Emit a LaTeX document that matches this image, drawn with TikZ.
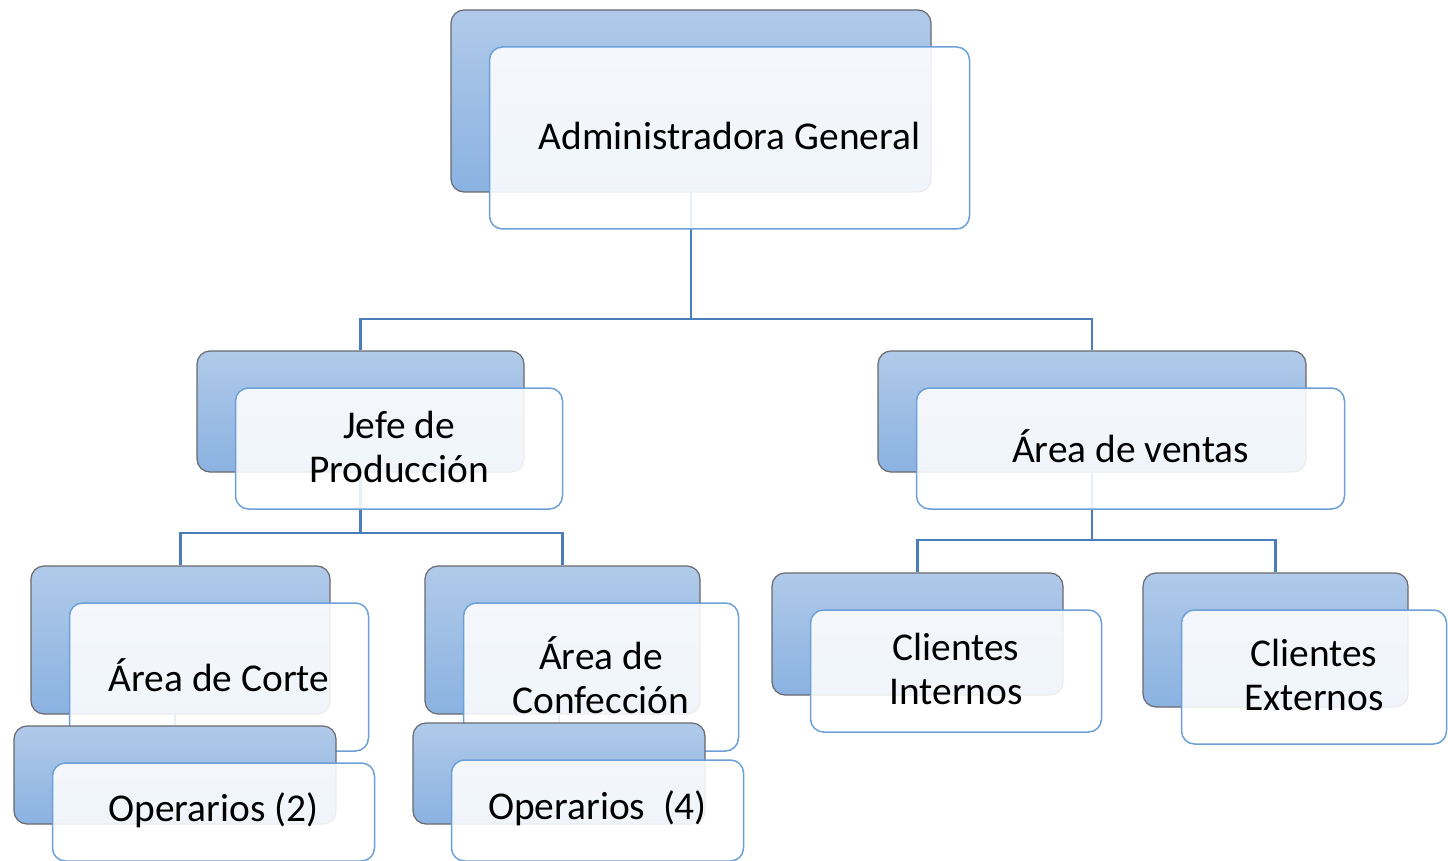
\documentclass[tikz,border=0pt]{standalone}
\usepackage{fontspec}
\setmainfont{Carlito}
\usetikzlibrary{backgrounds}
\definecolor{backline}{RGB}{105,105,110}
\definecolor{backtop}{RGB}{176,202,233}
\definecolor{backbot}{RGB}{138,178,225}
\definecolor{frontline}{RGB}{108,160,216}
\definecolor{linkcol}{RGB}{74,126,187}
\newcommand\orgfont{\fontsize{39.4}{44}\selectfont}
\tikzset{
  backbox/.style={draw=backline, line width=1.2pt, rounded corners=13pt,
    top color=backtop, middle color=backtop!85!backbot, bottom color=backbot,
    inner sep=0pt},
  frontbox/.style={draw=frontline, line width=1.5pt, rounded corners=13pt,
    fill=white, fill opacity=0.88, draw opacity=1, inner sep=0pt},
  label/.style={text=black, inner sep=0pt, align=center, font=\orgfont},
  link/.style={draw=linkcol, line width=2.9pt}
}
\newcommand\orgpair[6]{%
  \node[backbox, minimum width={#4-#2}, minimum height={#5-#3}] (#1B)
    at ({(#2+#4)/2},{(#3+#5)/2}) {};
  \node[frontbox, minimum width={#4-#2}, minimum height={#5-#3}] (#1F)
    at ({(#2+#4)/2+38.5},{(#3+#5)/2+37}) {};
  \node[label] (#1T) at ([yshift=2pt]#1F.center) {#6};
}
\begin{document}
\begin{tikzpicture}[x=1pt,y=-1pt]
\useasboundingbox (0,0) rectangle (1448,861);

\orgpair{admin}{451}{10}{931}{192}{Administradora General}
\orgpair{jefe}{197}{351}{524}{472}{Jefe de\\Producción}
\orgpair{ventas}{878}{351}{1306}{472}{Área de ventas}
\orgpair{corte}{31}{566}{330}{714}{Área de Corte}
\orgpair{opdos}{14}{726}{336}{824}{Operarios (2)}
\orgpair{conf}{425}{566}{700}{714}{Área de\\Confección}
\orgpair{opcua}{413}{723}{705}{824}{Operarios\ \ (4)}
\orgpair{cint}{772}{573}{1063}{695}{Clientes\\Internos}
\orgpair{cext}{1143}{573}{1408}{707}{Clientes\\Externos}

\coordinate (barA) at (0,319);
\coordinate (barJ) at (0,533);
\coordinate (barV) at (0,540);

\begin{pgfonlayer}{background}
\fill[white] (0,0) rectangle (1448,861);
\draw[link] (adminB.south) -- (adminB.south |- barA) -| (jefeB.north);
\draw[link] (adminB.south |- barA) -| (ventasB.north);
\draw[link] (jefeB.south) -- (jefeB.south |- barJ) -| (corteB.north);
\draw[link] (jefeB.south |- barJ) -| (confB.north);
\draw[link] (ventasB.south) -- (ventasB.south |- barV) -| (cintB.north);
\draw[link] (ventasB.south |- barV) -| (cextB.north);
\draw[link] (opdosB.north |- corteB.south) -- (opdosB.north);
\draw[link] (opcuaB.north |- confB.south) -- (opcuaB.north);
\end{pgfonlayer}
\end{tikzpicture}
\end{document}
